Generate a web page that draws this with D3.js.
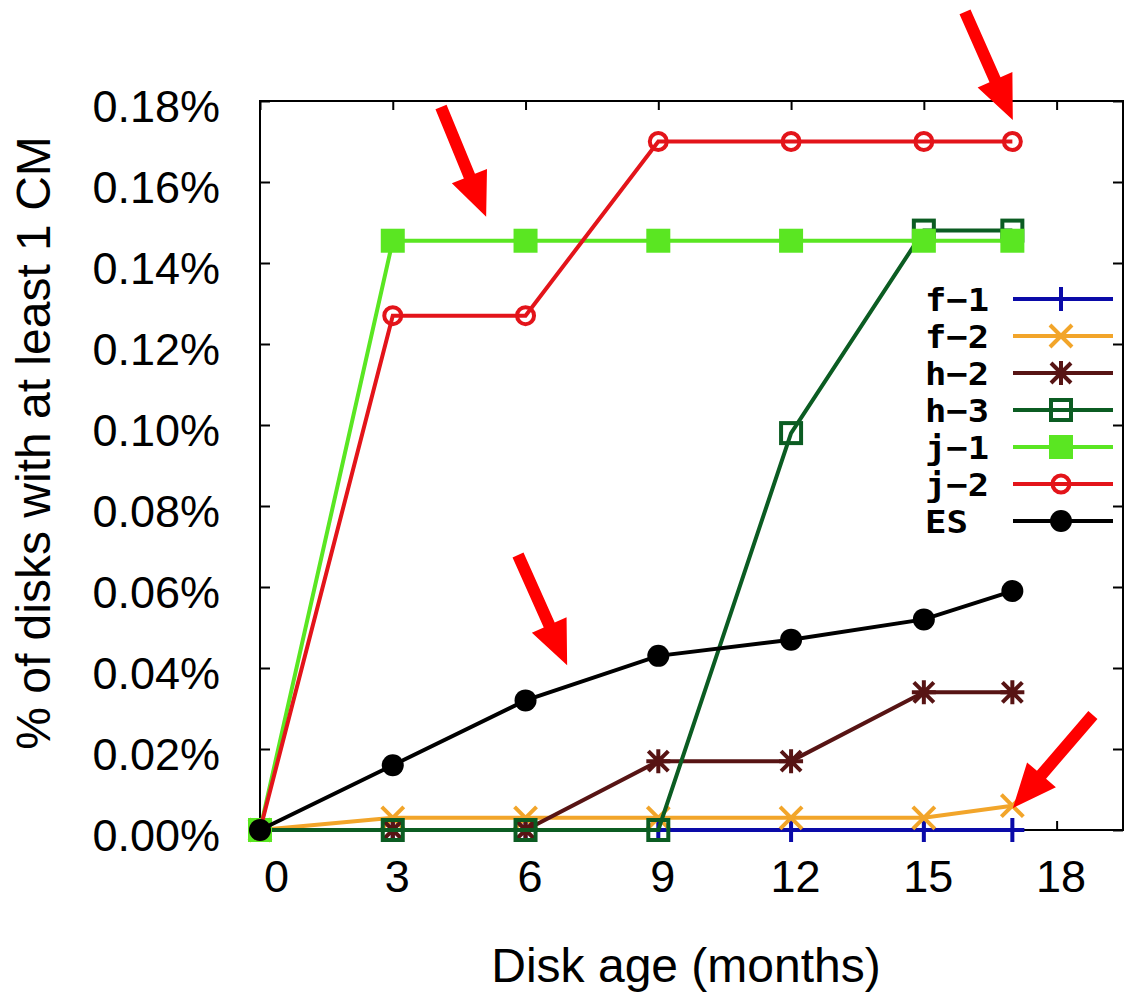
<!DOCTYPE html>
<html>
<head>
<meta charset="utf-8">
<script src="https://cdn.jsdelivr.net/npm/d3@7"></script>
<style>
  body { margin: 0; background: #fff; }
  svg { display: block; }
</style>
</head>
<body>
<svg id="chart" width="1126" height="992"></svg>
<script>
// ==========================
// DATA
// ==========================
const months = [0, 3, 6, 9, 12, 15, 17];
const f1 = [0, 0, 0, 0, 0, 0, 0];
const f2 = [0, 0.003, 0.003, 0.003, 0.003, 0.003, 0.006];
const h2 = [0, 0, 0, 0.017, 0.017, 0.034, 0.034];
const h3 = [0, 0, 0, 0, 0.098, 0.148, 0.148];
const j1 = [0, 0.1455, 0.1455, 0.1455, 0.1455, 0.1455, 0.1455];
const j2 = [0, 0.127, 0.127, 0.17, 0.17, 0.17, 0.17];
const es = [0, 0.016, 0.032, 0.043, 0.047, 0.052, 0.059];

const seriesNames = ["f\u22121", "f\u22122", "h\u22122", "h\u22123", "j\u22121", "j\u22122", "ES"];
const xTicks = [0, 3, 6, 9, 12, 15, 18];
const yTicks = [0, 0.02, 0.04, 0.06, 0.08, 0.10, 0.12, 0.14, 0.16, 0.18];

// red annotation arrows: [tailMonth, tailPct, tipMonth, tipPct]
const arrows = [
    [4.09, 0.1785, 5.11, 0.1514],
    [15.93, 0.202, 17.01, 0.1753],
    [5.83, 0.0679, 6.94, 0.0407],
    [18.82, 0.0284, 17.01, 0.0054]
];

// ==========================
// SETUP
// ==========================
const svg = d3.select("#chart");
const plotLeft = 260, plotRight = 1123, plotTop = 101, plotBottom = 830;

const x = d3.scaleLinear().domain([0, 19.5]).range([plotLeft, plotRight]);
const y = d3.scaleLinear().domain([0, 0.18]).range([plotBottom, plotTop]);

const series = [
    { name: seriesNames[0], values: f1, color: "#0a0aa8", marker: "plus" },
    { name: seriesNames[1], values: f2, color: "#f2a52a", marker: "cross" },
    { name: seriesNames[2], values: h2, color: "#571414", marker: "star" },
    { name: seriesNames[3], values: h3, color: "#0b5c22", marker: "openSquare" },
    { name: seriesNames[4], values: j1, color: "#5ae622", marker: "square" },
    { name: seriesNames[5], values: j2, color: "#e3141a", marker: "openCircle" },
    { name: seriesNames[6], values: es, color: "#000000", marker: "dot" }
];

const font = "'Liberation Sans', Arial, sans-serif";

// Axes (ticks point inward)
svg.append("g")
    .attr("transform", `translate(0,${plotBottom})`)
    .call(d3.axisBottom(x).tickValues(xTicks).tickSize(-9).tickPadding(30).tickFormat(d3.format("d")))
    .call(g => g.select(".domain").remove())
    .call(g => g.selectAll("text").attr("font-family", font).attr("font-size", 45).attr("fill", "#000")
        .attr("dx", d => d === 0 ? 16 : 4))
    .call(g => g.selectAll("line").attr("stroke", "#000").attr("stroke-width", 2));

svg.append("g")
    .attr("transform", `translate(0,${plotTop})`)
    .call(d3.axisTop(x).tickValues(xTicks).tickSize(-9).tickFormat(""))
    .call(g => g.select(".domain").remove())
    .call(g => g.selectAll("line").attr("stroke", "#000").attr("stroke-width", 2));

svg.append("g")
    .attr("transform", `translate(${plotLeft},0)`)
    .call(d3.axisLeft(y).tickValues(yTicks).tickSize(-10).tickPadding(40)
        .tickFormat(d => d.toFixed(2) + "%"))
    .call(g => g.select(".domain").remove())
    .call(g => g.selectAll("text").attr("font-family", font).attr("font-size", 45).attr("fill", "#000")
        .attr("dy", "0.45em"))
    .call(g => g.selectAll("line").attr("stroke", "#000").attr("stroke-width", 2));

svg.append("g")
    .attr("transform", `translate(${plotRight},0)`)
    .call(d3.axisRight(y).tickValues(yTicks).tickSize(-10).tickFormat(""))
    .call(g => g.select(".domain").remove())
    .call(g => g.selectAll("line").attr("stroke", "#000").attr("stroke-width", 2));

// Border
svg.append("rect")
    .attr("x", plotLeft).attr("y", plotTop)
    .attr("width", plotRight - plotLeft).attr("height", plotBottom - plotTop)
    .attr("fill", "none").attr("stroke", "#000").attr("stroke-width", 2);

// Axis titles
svg.append("text")
    .attr("x", 686).attr("y", 982)
    .attr("text-anchor", "middle")
    .attr("font-family", font).attr("font-size", 48)
    .text("Disk age (months)");

svg.append("text")
    .attr("transform", "translate(50,443) rotate(-90)")
    .attr("text-anchor", "middle")
    .attr("font-family", font).attr("font-size", 48)
    .text("% of disks with at least 1 CM");

// ==========================
// MARKERS
// ==========================
function drawMarker(g, type, color) {
    if (type === "plus") {
        g.append("path").attr("d", "M-12,0H12M0,-12V12")
            .attr("stroke", color).attr("stroke-width", 4).attr("fill", "none");
    } else if (type === "cross") {
        g.append("path").attr("d", "M-11,-11L11,11M-11,11L11,-11")
            .attr("stroke", color).attr("stroke-width", 4).attr("fill", "none");
    } else if (type === "star") {
        g.append("path").attr("d", "M-12,0H12M0,-12V12M-10,-10L10,10M-10,10L10,-10")
            .attr("stroke", color).attr("stroke-width", 4).attr("fill", "none");
    } else if (type === "openSquare") {
        g.append("rect").attr("x", -10).attr("y", -10).attr("width", 20).attr("height", 20)
            .attr("stroke", color).attr("stroke-width", 4).attr("fill", "none");
    } else if (type === "square") {
        g.append("rect").attr("x", -12).attr("y", -12).attr("width", 24).attr("height", 24)
            .attr("fill", color);
    } else if (type === "openCircle") {
        g.append("circle").attr("r", 8.5)
            .attr("stroke", color).attr("stroke-width", 4).attr("fill", "none");
    } else if (type === "dot") {
        g.append("circle").attr("r", 11).attr("fill", color);
    }
}

// ==========================
// LINES
// ==========================
const line = d3.line()
    .x(d => x(d[0]))
    .y(d => y(d[1]));

series.forEach(s => {
    const pts = months.map((m, i) => [m, s.values[i]]);
    const g = svg.append("g").attr("class", "series");
    g.append("path")
        .datum(pts)
        .attr("d", line)
        .attr("fill", "none")
        .attr("stroke", s.color)
        .attr("stroke-width", 4);
    pts.forEach(p => {
        const mg = g.append("g").attr("transform", `translate(${x(p[0])},${y(p[1])})`);
        drawMarker(mg, s.marker, s.color);
    });
});

// ==========================
// LEGEND
// ==========================
const legend = svg.append("g");
series.forEach((s, i) => {
    const ly = 299 + i * 37;
    legend.append("text")
        .attr("x", 925).attr("y", ly + 12)
        .attr("font-family", "'DejaVu Sans Mono', monospace")
        .attr("font-weight", "bold")
        .attr("font-size", 32)
        .attr("textLength", s.name.length === 2 ? 43 : 64)
        .attr("lengthAdjust", "spacingAndGlyphs")
        .text(s.name);
    legend.append("line")
        .attr("x1", 1013).attr("x2", 1113)
        .attr("y1", ly).attr("y2", ly)
        .attr("stroke", s.color).attr("stroke-width", 4);
    const mg = legend.append("g").attr("transform", `translate(1061,${ly})`);
    drawMarker(mg, s.marker, s.color);
});

// ==========================
// ARROWS
// ==========================
function arrowPath(x1, y1, x2, y2) {
    const dx = x2 - x1, dy = y2 - y1;
    const len = Math.sqrt(dx * dx + dy * dy);
    const ux = dx / len, uy = dy / len;
    const nx = -uy, ny = ux;
    const headLen = 44, headW = 19, shaftW = 6;
    const bx = x2 - ux * headLen, by = y2 - uy * headLen;
    const pts = [
        [x1 + nx * shaftW, y1 + ny * shaftW],
        [bx + nx * shaftW, by + ny * shaftW],
        [bx + nx * headW, by + ny * headW],
        [x2, y2],
        [bx - nx * headW, by - ny * headW],
        [bx - nx * shaftW, by - ny * shaftW],
        [x1 - nx * shaftW, y1 - ny * shaftW]
    ];
    return "M" + pts.map(p => p.join(",")).join("L") + "Z";
}

svg.append("g").selectAll("path")
    .data(arrows)
    .join("path")
    .attr("d", a => arrowPath(x(a[0]), y(a[1]), x(a[2]), y(a[3])))
    .attr("fill", "#ff0000");
</script>
</body>
</html>
